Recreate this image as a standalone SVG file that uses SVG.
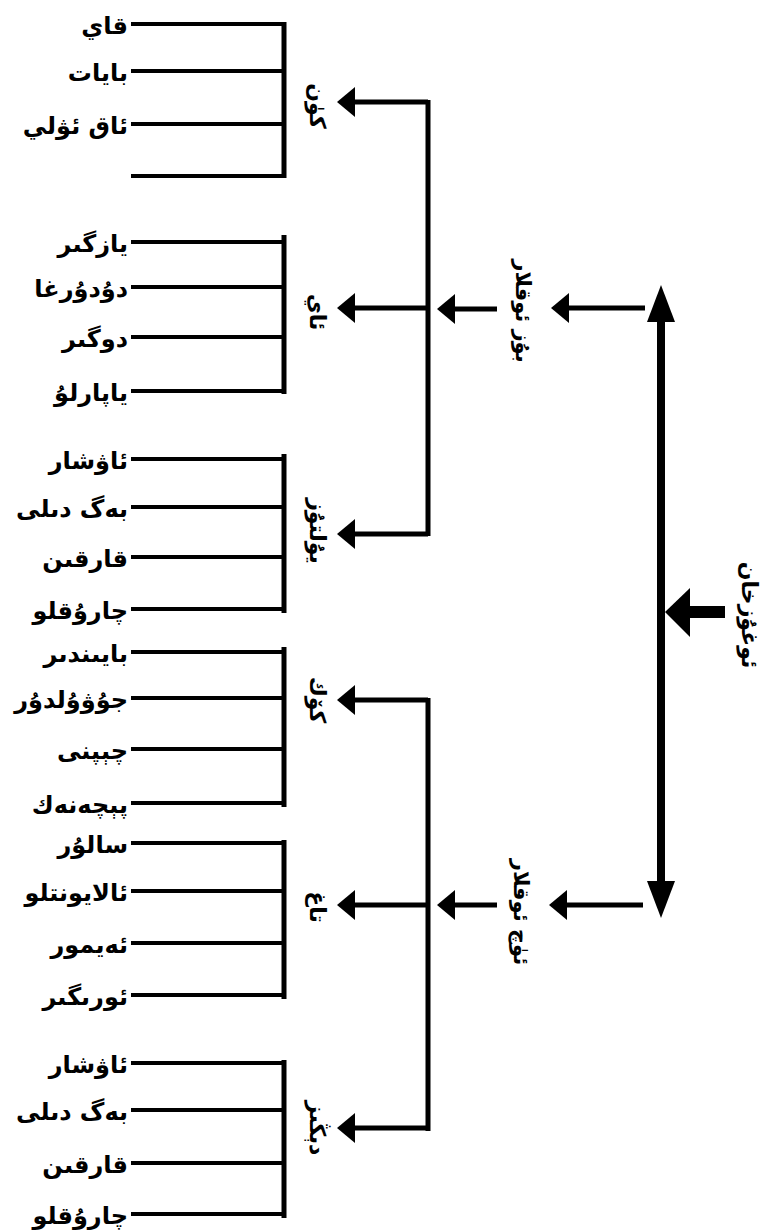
<svg xmlns="http://www.w3.org/2000/svg" width="780" height="1231" viewBox="0 0 780 1231">
<style>
.leaf{fill:none;stroke:#000;stroke-width:4}
.bar{fill:none;stroke:#000;stroke-width:5}
.shaft{fill:none;stroke:#000;stroke-width:5}
.lbl{font-family:'DejaVu Sans',sans-serif;font-size:24px;font-weight:bold;fill:#000;text-anchor:end}
.vl{font-family:'DejaVu Sans',sans-serif;font-size:22px;font-weight:bold;fill:#000;text-anchor:middle}
.ml{font-family:'DejaVu Sans',sans-serif;font-size:21px;font-weight:bold;fill:#000;text-anchor:middle}
</style>
<defs>
<marker id="ah" markerUnits="userSpaceOnUse" markerWidth="18" markerHeight="30" refX="0" refY="15" orient="auto" overflow="visible">
<path d="M0,0 L18,15 L0,30 Z" fill="#000"/>
</marker>
<marker id="bh" markerUnits="userSpaceOnUse" markerWidth="37" markerHeight="28" refX="0" refY="14" orient="auto-start-reverse" overflow="visible">
<path d="M0,0 L37,14 L0,28 Z" fill="#000"/>
</marker>
</defs>
<rect width="780" height="1231" fill="#fff"/>

<g id="connectors">
<line class="shaft" x1="428" y1="102" x2="355" y2="102" marker-end="url(#ah)"/>
<line class="shaft" x1="428" y1="308" x2="355" y2="308" marker-end="url(#ah)"/>
<line class="shaft" x1="428" y1="534" x2="355" y2="534" marker-end="url(#ah)"/>
<line class="shaft" x1="428" y1="700" x2="355" y2="700" marker-end="url(#ah)"/>
<line class="shaft" x1="428" y1="905" x2="355" y2="905" marker-end="url(#ah)"/>
<line class="shaft" x1="428" y1="1128" x2="355" y2="1128" marker-end="url(#ah)"/>
<line class="bar" x1="428" y1="100" x2="428" y2="536"/>
<line class="bar" x1="428" y1="698" x2="428" y2="1131"/>
<line class="shaft" x1="497" y1="309" x2="455" y2="309" marker-end="url(#ah)"/>
<line class="shaft" x1="645" y1="308" x2="569" y2="308" marker-end="url(#ah)"/>
<line class="shaft" x1="497" y1="905" x2="455" y2="905" marker-end="url(#ah)"/>
<line class="shaft" x1="643" y1="905" x2="567" y2="905" marker-end="url(#ah)"/>
<line x1="661" y1="322" x2="661" y2="881" stroke="#000" stroke-width="8" marker-start="url(#bh)" marker-end="url(#bh)"/>
<line x1="725" y1="612" x2="689" y2="612" stroke="#000" stroke-width="12"/>
<path d="M690,588 L665,612 L690,637 Z" fill="#000"/>
</g>

<g id="root">
<text class="vl" transform="translate(742,615) rotate(90)">ئوغۇزخان</text>
</g>
<g id="buzoqlar">
<text class="ml" transform="translate(516,311) rotate(90)">بۇز ئوقلار</text>
</g>
<g id="uchoqlar">
<text class="ml" transform="translate(514,912) rotate(90)">ئۈچ ئوقلار</text>
</g>

<g id="kun">
<text class="vl" transform="translate(310,106) rotate(90)">كۈن</text>
<line class="bar" x1="284" y1="22" x2="284" y2="178"/>
<line class="leaf" x1="131" y1="24" x2="284" y2="24"/>
<line class="leaf" x1="131" y1="71" x2="284" y2="71"/>
<line class="leaf" x1="131" y1="124" x2="284" y2="124"/>
<line class="leaf" x1="131" y1="176" x2="284" y2="176"/>
<text class="lbl" x="128" y="34">قاي</text>
<text class="lbl" x="128" y="81">بايات</text>
<text class="lbl" x="128" y="134">ئاق ئۋلي</text>
</g>

<g id="ay">
<text class="vl" transform="translate(310,312) rotate(90)">ئاي</text>
<line class="bar" x1="284" y1="235" x2="284" y2="394"/>
<line class="leaf" x1="131" y1="242" x2="284" y2="242"/>
<line class="leaf" x1="131" y1="287" x2="284" y2="287"/>
<line class="leaf" x1="131" y1="337" x2="284" y2="337"/>
<line class="leaf" x1="131" y1="391" x2="284" y2="391"/>
<text class="lbl" x="128" y="252">يازگىر</text>
<text class="lbl" x="128" y="297">دۇدۇرغا</text>
<text class="lbl" x="128" y="347">دوگىر</text>
<text class="lbl" x="128" y="401">ياپارلۇ</text>
</g>

<g id="yultuz">
<text class="vl" transform="translate(310,531) rotate(90)">يۇلتۇز</text>
<line class="bar" x1="284" y1="454" x2="284" y2="613"/>
<line class="leaf" x1="131" y1="459" x2="284" y2="459"/>
<line class="leaf" x1="131" y1="507" x2="284" y2="507"/>
<line class="leaf" x1="131" y1="557" x2="284" y2="557"/>
<line class="leaf" x1="131" y1="609" x2="284" y2="609"/>
<text class="lbl" x="128" y="469">ئاۋشار</text>
<text class="lbl" x="128" y="517">بەگ دىلى</text>
<text class="lbl" x="128" y="567">قارقىن</text>
<text class="lbl" x="128" y="619">چارۇقلو</text>
</g>

<g id="kok">
<text class="vl" transform="translate(310,700) rotate(90)">كۆك</text>
<line class="bar" x1="284" y1="647" x2="284" y2="807"/>
<line class="leaf" x1="131" y1="652" x2="284" y2="652"/>
<line class="leaf" x1="131" y1="698" x2="284" y2="698"/>
<line class="leaf" x1="131" y1="749" x2="284" y2="749"/>
<line class="leaf" x1="131" y1="803" x2="284" y2="803"/>
<text class="lbl" x="128" y="662">بايىندىر</text>
<text class="lbl" x="128" y="708">جۇۋۇلدۇر</text>
<text class="lbl" x="128" y="759">چېپنى</text>
<text class="lbl" x="128" y="813">پېچەنەك</text>
</g>

<g id="tagh">
<text class="vl" transform="translate(310,907) rotate(90)">تاغ</text>
<line class="bar" x1="284" y1="840" x2="284" y2="999"/>
<line class="leaf" x1="131" y1="843" x2="284" y2="843"/>
<line class="leaf" x1="131" y1="891" x2="284" y2="891"/>
<line class="leaf" x1="131" y1="943" x2="284" y2="943"/>
<line class="leaf" x1="131" y1="995" x2="284" y2="995"/>
<text class="lbl" x="128" y="853">سالۇر</text>
<text class="lbl" x="128" y="901">ئالايونتلو</text>
<text class="lbl" x="128" y="953">ئەيمور</text>
<text class="lbl" x="128" y="1005">ئورىگىر</text>
</g>

<g id="dengiz">
<text class="vl" transform="translate(310,1128) rotate(90)">دېڭىز</text>
<line class="bar" x1="284" y1="1060" x2="284" y2="1218"/>
<line class="leaf" x1="131" y1="1063" x2="284" y2="1063"/>
<line class="leaf" x1="131" y1="1110" x2="284" y2="1110"/>
<line class="leaf" x1="131" y1="1163" x2="284" y2="1163"/>
<line class="leaf" x1="131" y1="1214" x2="284" y2="1214"/>
<text class="lbl" x="128" y="1073">ئاۋشار</text>
<text class="lbl" x="128" y="1120">بەگ دىلى</text>
<text class="lbl" x="128" y="1173">قارقىن</text>
<text class="lbl" x="128" y="1224">چارۇقلو</text>
</g>
</svg>
